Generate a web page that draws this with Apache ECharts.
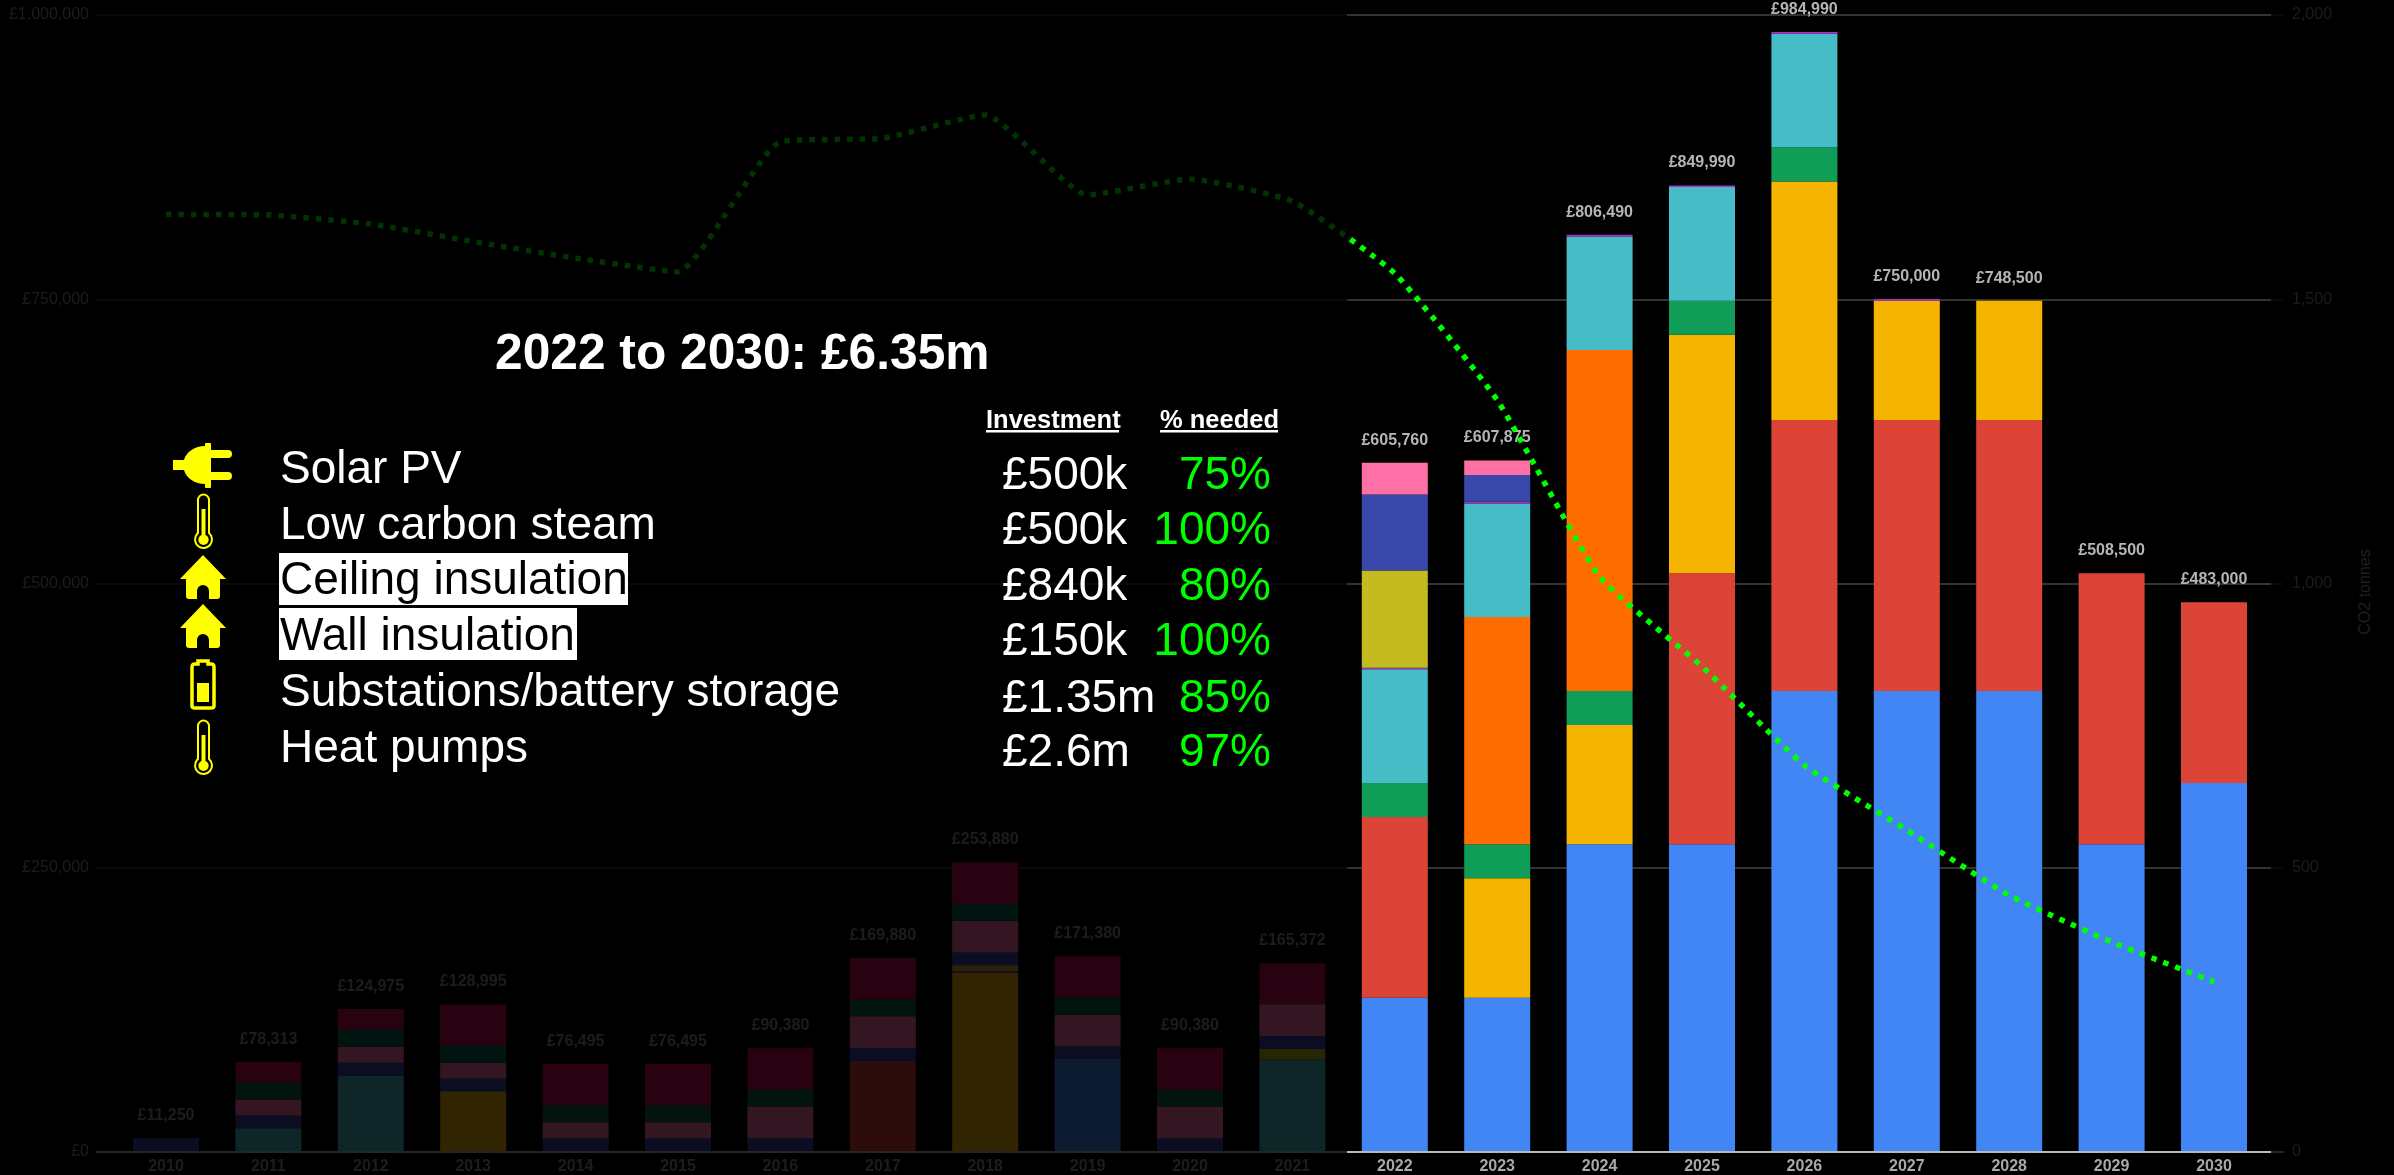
<!DOCTYPE html>
<html>
<head>
<meta charset="utf-8">
<title>Investment and CO2 tonnes, 2010 to 2030</title>
<style>
  html, body { margin: 0; padding: 0; background: #000; }
  #chart { width: 2394px; height: 1175px; }
</style>
<script src="https://cdn.jsdelivr.net/npm/echarts@6/dist/echarts.min.js"></script>
</head>
<body>
<div id="chart"></div>
<script>
const years = ['2010','2011','2012','2013','2014','2015','2016','2017','2018','2019','2020',
               '2021','2022','2023','2024','2025','2026','2027','2028','2029','2030'];

// Spend per year by stack layer, bottom to top, in pounds.
const _ = null;
const blue    = [_,_,_,_,_,_,_,_,_,81000,_,_,135000,135000,270000,270000,405000,405000,405000,270000,324000];
const red     = [_,_,_,_,_,_,_,79500,_,_,_,_,159000,_,_,238500,238500,238500,238500,238500,159000];
const yellow  = [_,_,_,52500,_,_,_,_,157000,_,_,_,_,105000,105000,210000,210000,105000,105000,_,_];
const green   = [_,_,_,_,_,_,_,_,_,_,_,_,30000,30000,30000,30000,30000,_,_,_,_];
const orange  = [_,_,_,_,_,_,_,_,_,_,_,_,_,200000,300000,_,_,_,_,_,_];
const teal    = [_,20000,66500,_,_,_,_,_,_,_,_,80500,100000,100000,100000,100000,100000,_,_,_,_];
const purple  = [_,_,_,_,_,_,_,_,1500,_,_,_,1490,1490,1490,1490,1490,1500,_,_,_];
const olive   = [_,_,_,_,_,_,_,_,5000,_,_,9492,85500,_,_,_,_,_,_,_,_];
const navy    = [11250,11250,11250,11250,11250,11250,11250,11250,11250,11250,11250,11250,67000,23500,_,_,_,_,_,_,_];
const pink    = [_,14000,14000,14000,14000,14000,27885,27885,27885,27885,27885,27885,27770,12885,_,_,_,_,_,_,_];
const pine    = [_,15000,15000,15000,15000,15000,15000,15000,15000,15000,15000,_,_,_,_,_,_,_,_,_,_];
const crimson = [_,18063,18225,36245,36245,36245,36245,36245,36245,36245,36245,36245,_,_,_,_,_,_,_,_,_];

const totals = [11250,78313,124975,128995,76495,76495,90380,169880,253880,171380,90380,
                165372,605760,607875,806490,849990,984990,750000,748500,508500,483000];

// Tonnes of CO2 per year, read on the right-hand axis.
const co2 = [1649,1648,1632,1601,1572,1548,1777,1783,1824,1683,1711,1672,1545,1322,1011,853,679,565,450,368,298];

const layers = [
  [blue, '#4285f4'], [red, '#db4437'], [yellow, '#f4b400'], [green, '#0f9d58'],
  [orange, '#ff6d00'], [teal, '#46bdc6'], [purple, '#ab30c4'], [olive, '#c3bb1f'],
  [navy, '#3949ab'], [pink, '#ff70a6'], [pine, '#0a644b'], [crimson, '#c80a50']
];

const headline = '2022 to 2030: £6.35m';
const measures = ['Solar PV','Low carbon steam','Ceiling insulation','Wall insulation','Substations/battery storage','Heat pumps'];
const investment = ['£500k','£500k','£840k','£150k','£1.35m','£2.6m'];
const needed = ['75%','100%','80%','100%','85%','97%'];
const columnHeads = ['Investment','% needed'];

const FONT = '"Liberation Sans", Arial, sans-serif';
const ICON = '#ffff00';
const FIRST_LIVE_YEAR = 12;   // index of 2022; earlier years sit under the dimming layer

function text(str, x, y, size, fill, opts) {
  opts = opts || {};
  const align = opts.align || 'left';
  return {
    type: 'text', x: x, y: y, z: 110,
    style: {
      text: str, fill: fill,
      font: (opts.bold ? 'bold ' : '') + size + 'px ' + FONT,
      align: align, textAlign: align, verticalAlign: 'middle', textVerticalAlign: 'middle'
    }
  };
}

// Icon outlines are registered as shapes so the graphic component can place them.
const iconPaths = {
  plug: 'M0 17 H11 C13 9 22 3 32 3 V1 Q32 0 33 0 H37 Q38 0 38 1 V44 Q38 45 37 45 H33 Q32 45 32 44 V41 C22 41 13 35 11 27 H0 Z ' +
        'M38 7 H55 A4 4 0 0 1 55 15 H38 Z M38 29 H55 A4 4 0 0 1 55 37 H38 Z',
  house: 'M23 0 L46 24 H40 V41 Q40 44 37 44 H29 V36 A6 6 0 0 0 17 36 V44 H9 Q6 44 6 41 V24 H0 Z',
  tube: 'M3 6 A5.5 5.5 0 0 1 14 6 V39 A8.5 8.5 0 1 1 3 39 Z',
  mercury: 'M6.5 15 H10.5 V41 A5.2 5.2 0 1 1 6.5 41 Z',
  cell: 'M2 9 Q2 6 5 6 H8 V3 H18 V6 H21 Q24 6 24 9 V48 Q24 50 21 50 H5 Q2 50 2 48 Z',
  charge: 'M7 25 H19 V44 H7 Z'
};
Object.keys(iconPaths).forEach(function (name) {
  echarts.graphic.registerShape(name, echarts.graphic.extendPath(iconPaths[name], {}));
});
function glyph(name, x, y, stroke) {
  return {
    type: name, x: x, y: y, z: 110,
    style: stroke ? { fill: 'none', stroke: ICON, lineWidth: stroke } : { fill: ICON }
  };
}

// Dimmed history and right-hand axis, then the summary panel on top of them.
const graphic = [
  { type: 'rect', z: 100, silent: true, shape: { x: 0, y: 0, width: 1347, height: 1175 }, style: { fill: 'rgba(0,0,0,0.8)' } },
  { type: 'rect', z: 100, silent: true, shape: { x: 2271, y: 0, width: 123, height: 1175 }, style: { fill: 'rgba(0,0,0,0.8)' } },
  { type: 'rect', z: 105, shape: { x: 279, y: 553, width: 349, height: 52 }, style: { fill: '#fff' } },
  { type: 'rect', z: 105, shape: { x: 279, y: 608, width: 298, height: 52 }, style: { fill: '#fff' } },
  { type: 'rect', z: 105, shape: { x: 986, y: 430, width: 133, height: 2.5 }, style: { fill: '#fff' } },
  { type: 'rect', z: 105, shape: { x: 1160, y: 430, width: 118, height: 2.5 }, style: { fill: '#fff' } },
  text(headline, 495, 355, 49.7, '#fff', { bold: true }),
  text(columnHeads[0], 986, 421, 25.5, '#fff', { bold: true }),
  text(columnHeads[1], 1160, 421, 25.5, '#fff', { bold: true }),
  glyph('plug', 173, 443),
  glyph('tube', 195, 494, 2), glyph('mercury', 195, 494),
  glyph('house', 180, 555),
  glyph('house', 180, 604),
  glyph('cell', 190, 658, 3.5), glyph('charge', 190, 658),
  glyph('tube', 195, 720, 2), glyph('mercury', 195, 720)
];
const rowY = [470.5, 526.5, 581.5, 637.5, 693.5, 749.5];
const valueY = [476.5, 531.5, 587.5, 642.5, 699.5, 753.5];
measures.forEach(function (m, i) {
  graphic.push(text(m, 280, rowY[i], 46, (i === 2 || i === 3) ? '#000' : '#fff'));
  graphic.push(text(investment[i], 1002, valueY[i], 46, '#fff'));
  graphic.push(text(needed[i], 1271, valueY[i], 46, '#00ff00', { align: 'right' }));
});

const series = layers.map(function (l) {
  return {
    type: 'bar', stack: 'spend', xAxisIndex: 1, yAxisIndex: 2,
    barWidth: 66, data: l[0], itemStyle: { color: l[1] }, silent: true
  };
});
series.push({
  type: 'line', xAxisIndex: 1, yAxisIndex: 2, z: 4,
  data: totals.map(function (v, i) {
    return i < FIRST_LIVE_YEAR ? { value: v, label: { color: '#8c8c8c' } } : v;
  }),
  symbol: 'circle', symbolSize: 1, itemStyle: { color: 'transparent' },
  lineStyle: { opacity: 0 }, silent: true,
  label: {
    show: true, position: 'top', distance: 14, color: '#b5b5b5',
    fontFamily: FONT, fontSize: 16, fontWeight: 'bold',
    formatter: function (p) { return '£' + p.value.toLocaleString('en-GB'); }
  }
});
series.push({
  type: 'line', xAxisIndex: 1, yAxisIndex: 3, data: co2, z: 5, showSymbol: false, silent: true,
  smooth: 0.15,
  lineStyle: { color: '#00ff00', width: 5.5, type: [5.5, 7], cap: 'butt' }
});

const axisText = { color: '#888', fontFamily: FONT, fontSize: 16 };

const chart = echarts.init(document.getElementById('chart'), null, { renderer: 'canvas' });
chart.setOption({
  animation: false,
  backgroundColor: '#000',
  graphic: graphic,
  grid: [
    { left: 97, right: 111, top: 15, bottom: 23 },
    { left: 114.8, width: 2150.4, top: 15, bottom: 23 }
  ],
  xAxis: [
    { type: 'category', gridIndex: 0, data: [''],
      axisLine: { lineStyle: { color: '#b8b8b8', width: 2 } }, axisTick: { show: false }, axisLabel: { show: false } },
    { type: 'category', gridIndex: 1, data: years,
      axisLine: { show: false }, axisTick: { show: false },
      axisLabel: {
        color: function (v, i) { return years.indexOf(v) < FIRST_LIVE_YEAR ? '#8c8c8c' : '#a8a8a8'; },
        fontFamily: FONT, fontSize: 16, fontWeight: 'bold', margin: 8, interval: 0
      } }
  ],
  yAxis: [
    { type: 'value', gridIndex: 0, min: 0, max: 1000000, interval: 250000,
      axisLine: { show: false }, axisTick: { show: false },
      splitLine: { lineStyle: { color: '#333', width: 2 } },
      axisLabel: Object.assign({ margin: 8, formatter: function (v) { return '£' + v.toLocaleString('en-GB'); } }, axisText) },
    { type: 'value', gridIndex: 0, position: 'right', min: 0, max: 2000, interval: 500,
      axisLine: { show: false }, axisTick: { show: false }, splitLine: { show: false },
      axisLabel: Object.assign({ margin: 9, formatter: function (v) { return v.toLocaleString('en-GB'); } }, axisText),
      name: 'CO2 tonnes', nameLocation: 'middle', nameRotate: 90, nameGap: 75,
      nameTextStyle: { color: '#999', fontFamily: FONT, fontSize: 16, padding: [0, 17, 0, 0] } },
    { type: 'value', gridIndex: 1, min: 0, max: 1000000, show: false },
    { type: 'value', gridIndex: 1, min: 0, max: 2000, show: false }
  ],
  series: series
});
</script>
</body>
</html>
